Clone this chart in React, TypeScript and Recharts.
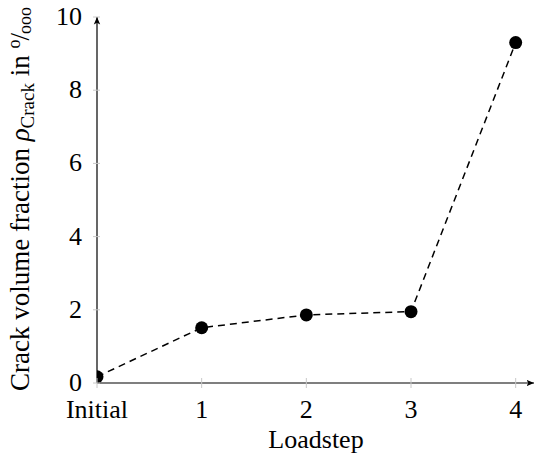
import React from 'react';
import { LineChart, Line, XAxis, YAxis } from 'recharts';

const categories = ['Initial', '1', '2', '3', '4'];
const steps = [0, 1, 2, 3, 4];
const crackFraction = [0.17, 1.51, 1.86, 1.95, 9.3];
const yTicks = [0, 2, 4, 6, 8, 10];

const data = steps.map((s, i) => ({ step: s, value: crackFraction[i] }));

const FONT = '"Liberation Serif", "Times New Roman", serif';
const FS = 26;

const YTick = (props: any) => {
  const { x, y, payload } = props;
  return (
    <g>
      <line x1={x - 4} x2={x + 3} y1={y} y2={y} stroke="#c8c8c8" strokeWidth={1} />
      <text x={x - 15} y={y} dy={8} textAnchor="end" fontFamily={FONT} fontSize={FS} fill="#000">
        {payload.value}
      </text>
    </g>
  );
};

const XTick = (props: any) => {
  const { x, y, payload } = props;
  return (
    <g>
      <line x1={x} x2={x} y1={y - 5} y2={y + 5} stroke="#c8c8c8" strokeWidth={1} />
      <text x={x} y={y + 35} textAnchor="middle" fontFamily={FONT} fontSize={FS} fill="#000">
        {categories[payload.value]}
      </text>
    </g>
  );
};

const YLabel = () => (
  <text
    transform="translate(28.5,199) rotate(-90)"
    textAnchor="middle"
    fontFamily={FONT}
    fontSize={27}
    fill="#000"
  >
    Crack volume fraction <tspan fontStyle="italic">ρ</tspan>
    <tspan fontSize={19} dy={5}>Crack</tspan>
    <tspan dy={-5}> in </tspan>
    <tspan fontSize={18} dy={-9}>o</tspan>
    <tspan dy={9} dx={-1}>/</tspan>
    <tspan fontSize={18} dy={2} dx={-1}>ooo</tspan>
  </text>
);

const XLabel = () => (
  <text x={316} y={448} textAnchor="middle" fontFamily={FONT} fontSize={FS} fill="#000">
    Loadstep
  </text>
);

export default function App() {
  return (
    <div style={{ position: 'absolute', left: 0, top: 0, width: 536, height: 458 }}>
      <svg width={0} height={0} style={{ position: 'absolute' }}>
        <defs>
          <marker
            id="arrowHead"
            viewBox="0 0 8 8"
            refX={7.5}
            refY={4}
            markerWidth={8}
            markerHeight={8}
            markerUnits="userSpaceOnUse"
            orient="auto-start-reverse"
          >
            <path d="M0,0.8 L7.5,4 L0,7.2 L1.8,4 Z" fill="#000" />
          </marker>
        </defs>
      </svg>
      <LineChart
        width={536}
        height={458}
        data={data}
        margin={{ top: 17, right: 2, bottom: 0, left: 0 }}
        style={{ background: '#fff' }}
      >
        <XAxis
          dataKey="step"
          type="number"
          domain={[0, 4.175]}
          ticks={steps}
          allowDataOverflow
          height={75}
          tickLine={false}
          tickSize={0}
          tickMargin={0}
          axisLine={{ stroke: '#000', strokeWidth: 1.2, markerEnd: 'url(#arrowHead)' } as any}
          tick={<XTick />}
          label={{ content: <XLabel /> } as any}
        />
        <YAxis
          type="number"
          domain={[0, 10]}
          ticks={yTicks}
          width={97}
          tickLine={false}
          tickSize={0}
          tickMargin={0}
          axisLine={{ stroke: '#000', strokeWidth: 1.2, markerStart: 'url(#arrowHead)' } as any}
          tick={<YTick />}
          label={{ content: <YLabel /> } as any}
        />
        <Line
          dataKey="value"
          stroke="#000"
          strokeWidth={1.5}
          strokeDasharray="7 5"
          isAnimationActive={false}
          dot={{ r: 6.5, fill: '#000', stroke: '#000', strokeWidth: 0 }}
          activeDot={false}
        />
      </LineChart>
    </div>
  );
}
